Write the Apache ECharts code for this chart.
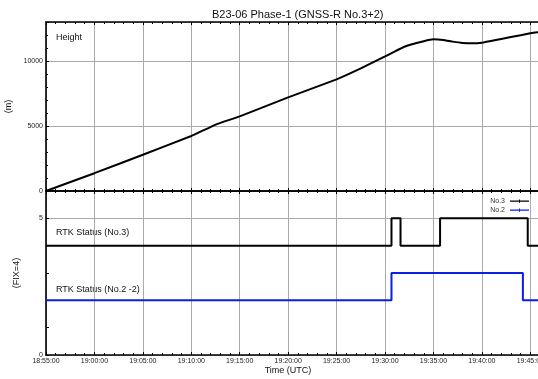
<!DOCTYPE html>
<html>
<head>
<meta charset="utf-8">
<script src="https://cdn.jsdelivr.net/npm/echarts@6/dist/echarts.min.js"></script>
<style>
html,body{margin:0;padding:0;background:#fff;}
#chart{width:538px;height:379px;}
</style>
</head>
<body>
<div id="chart"></div>
<script>
// Time in seconds of day (UTC)
const heightTimes = [68100, 68400, 68700, 69000, 69155, 69300, 69600, 69900, 70050, 70200, 70320, 70440, 70500, 70560, 70620, 70680, 70740, 70800, 70920, 71040, 71100, 71160];
const heightValues = [0, 1370, 2790, 4230, 5130, 5740, 7200, 8590, 9430, 10350, 11100, 11520, 11670, 11620, 11490, 11390, 11360, 11410, 11700, 11980, 12130, 12240];

const no3Times = [68100, 70240, 70296, 70541, 71084, 71160];
const no3Values = [4, 5, 4, 5, 4, 4];

const no2Times = [68100, 70240, 71054, 71160];
const no2Values = [2, 3, 2, 2];

const xMin = 68100, xMax = 71160, xInterval = 300;

function fmt(s) {
  const h = Math.floor(s / 3600), m = Math.floor((s % 3600) / 60), sec = Math.round(s % 60);
  const p = n => (n < 10 ? '0' : '') + n;
  return p(h) + ':' + p(m) + ':' + p(sec);
}
function zip(a, b) { return a.map((t, i) => [t, b[i]]); }

const FONT = 'Liberation Sans';
const gridLine = { show: true, lineStyle: { color: '#aaaaaa', width: 1 } };
const axisLine = { show: true, onZero: false, lineStyle: { color: '#000', width: 1.6 } };
const tick = { show: true, inside: true, length: 3, lineStyle: { color: '#000', width: 1 } };
const minor = { show: true, splitNumber: 5, length: 2, lineStyle: { color: '#000', width: 1 } };
const legendIcon = 'path://M0,0 L0.01,0 L0.01,0.01 Z M0,3.5 L19,3.5 L19,4.7 L0,4.7 Z M9,2.5 L10,2.5 L10,5.7 L9,5.7 Z M18.99,8 L19,8 L19,7.99 Z';

function xAx(grid, pos, opts) {
  return Object.assign({
    type: 'value', gridIndex: grid, position: pos, min: xMin, max: xMax, interval: xInterval,
    axisLine: axisLine, axisTick: tick, minorTick: minor,
    axisLabel: { show: false }, splitLine: { show: false }
  }, opts || {});
}

const chart = echarts.init(document.getElementById('chart'), null, { renderer: 'canvas' });
chart.setOption({
  animation: false,
  backgroundColor: '#fff',
  textStyle: { fontFamily: FONT },
  title: {
    text: 'B23-06 Phase-1 (GNSS-R No.3+2)',
    left: 207, top: 4,
    textStyle: { fontFamily: FONT, fontSize: 11, fontWeight: 'normal', color: '#111' }
  },
  legend: {
    data: [{ name: 'No.3', icon: legendIcon }, { name: 'No.2', icon: legendIcon }],
    orient: 'vertical', right: 4, top: 192, align: 'right',
    itemWidth: 19, itemHeight: 8, itemGap: 1,
    textStyle: { fontFamily: FONT, fontSize: 7, color: '#333', padding: [0, 0, 0, 0] }
  },
  grid: [
    { left: 46, right: -2, top: 22, height: 169, containLabel: false, outerBoundsMode: 'none' },
    { left: 46, right: -2, top: 191, height: 164, containLabel: false, outerBoundsMode: 'none' }
  ],
  xAxis: [
    xAx(0, 'bottom', { splitLine: gridLine }),
    xAx(0, 'top'),
    xAx(1, 'bottom', {
      splitLine: gridLine,
      axisLabel: { show: true, fontSize: 7, color: '#222', margin: 3, showMaxLabel: false, hideOverlap: false, formatter: v => fmt(v) },
      name: 'Time (UTC)', nameLocation: 'middle', nameGap: 11,
      nameTextStyle: { fontFamily: FONT, fontSize: 9, color: '#111', padding: [0, 10, 0, 0] }
    }),
    xAx(1, 'top')
  ],
  yAxis: [
    {
      type: 'value', gridIndex: 0, min: 0, max: 13000, interval: 5000, position: 'left',
      axisLine: axisLine, axisTick: tick, minorTick: minor,
      axisLabel: { fontSize: 7, color: '#222', margin: 3, showMaxLabel: false, formatter: v => String(v) },
      splitLine: gridLine,
      name: '(m)', nameLocation: 'middle', nameGap: 25, nameRotate: 90,
      nameTextStyle: { fontFamily: FONT, fontSize: 9, color: '#111' }
    },
    {
      type: 'value', gridIndex: 1, min: 0, max: 6, interval: 5, position: 'left',
      axisLine: axisLine, axisTick: tick,
      axisLabel: { fontSize: 7, color: '#222', margin: 3, showMaxLabel: false, formatter: v => String(v) },
      splitLine: gridLine,
      name: '(FIX=4)', nameLocation: 'middle', nameGap: 25, nameRotate: 90,
      nameTextStyle: { fontFamily: FONT, fontSize: 9, color: '#111' }
    },
    {
      type: 'value', gridIndex: 1, min: 0, max: 6, position: 'left', offset: 0,
      axisLine: { show: false },
      axisTick: { show: true, inside: true, length: 3, customValues: [1, 3], lineStyle: { color: '#000', width: 1 } },
      axisLabel: { show: false },
      splitLine: { show: false }
    }
  ],
  graphic: [
    { type: 'text', left: 56, top: 33, style: { text: 'Height', font: '9px "Liberation Sans"', fill: '#111' } },
    { type: 'text', left: 56, top: 228, style: { text: 'RTK Status (No.3)', font: '9px "Liberation Sans"', fill: '#111' } },
    { type: 'text', left: 56, top: 285, style: { text: 'RTK Status (No.2 -2)', font: '9px "Liberation Sans"', fill: '#111' } }
  ],
  series: [
    {
      name: 'Height', type: 'line', xAxisIndex: 0, yAxisIndex: 0,
      data: zip(heightTimes, heightValues), symbol: 'none', smooth: 0.1,
      lineStyle: { color: '#000', width: 2 }, itemStyle: { color: '#000' }
    },
    {
      name: 'No.3', type: 'line', xAxisIndex: 2, yAxisIndex: 1, step: 'end',
      data: zip(no3Times, no3Values), symbol: 'none',
      lineStyle: { color: '#000', width: 2 }, itemStyle: { color: '#000' }
    },
    {
      name: 'No.2', type: 'line', xAxisIndex: 2, yAxisIndex: 1, step: 'end',
      data: zip(no2Times, no2Values), symbol: 'none',
      lineStyle: { color: '#0a1ee6', width: 2 }, itemStyle: { color: '#0a1ee6' }
    }
  ]
});
</script>
</body>
</html>
